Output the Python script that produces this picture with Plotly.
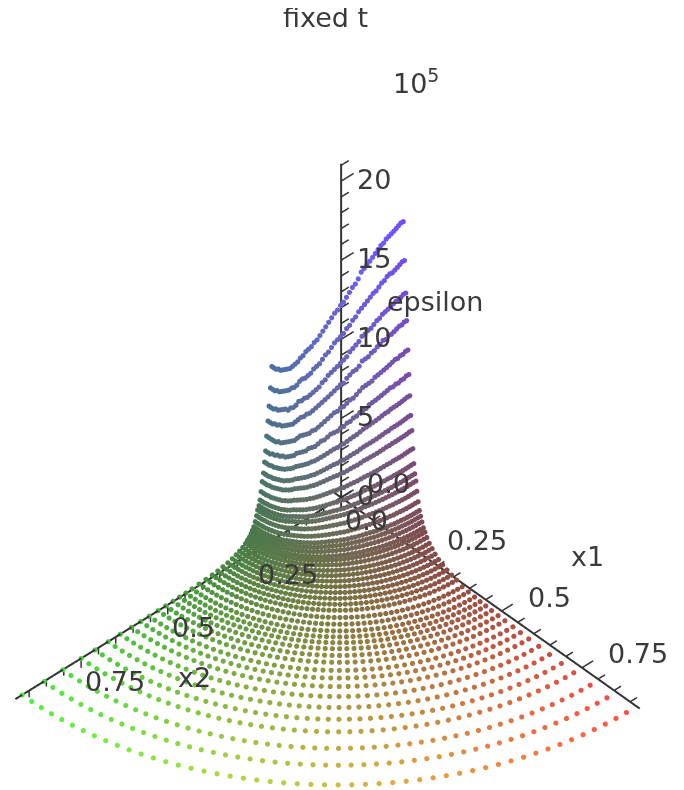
import plotly.graph_objects as go
import numpy as np

radii = [.200,.204,.208,.211,.215,.218,.221,.224,.228,.231,.234,.237,.241,.244,.248,
 .252,.256,.260,.265,.270,.276,.284,.293,.303,.314,.327,.341,.356,.372,
 .39,.41,.43,.448,.466,.485,.506,.528,.554,.578,.605,.637,.672,.71,.75,.803,.857,.92]
theta_deg = [1.8*(j+1) for j in range(50)]

# epsilon / 1e5 on the inner rings, one value per angle
eps_inner = [
[20.4,20.4,20.3,20.2,20.1,20.0,19.9,19.8,19.6,19.5,19.3,19.1,18.9,18.7,18.5,18.3,18.1,17.7,17.4,17.2,16.9,16.6,16.3,16.1,15.8,15.6,15.3,15.0,14.7,14.4,14.1,13.8,13.6,13.3,13.1,12.9,12.6,12.4,12.1,11.9,11.7,11.5,11.4,11.3,11.2,11.1,11.1,11.0,11.0,11.0],
[18.0,18.0,17.9,17.8,17.7,17.6,17.6,17.5,17.3,17.2,17.0,16.8,16.7,16.5,16.3,16.1,15.9,15.7,15.4,15.2,14.9,14.7,14.4,14.2,14.0,13.8,13.5,13.2,13.0,12.7,12.4,12.2,12.0,11.7,11.5,11.3,11.2,11.0,10.7,10.5,10.4,10.2,10.1,10.0,9.9,9.8,9.8,9.7,9.7,9.7],
[16.0,16.0,15.9,15.8,15.8,15.7,15.6,15.5,15.4,15.3,15.1,15.0,14.8,14.6,14.5,14.3,14.2,13.9,13.7,13.5,13.3,13.0,12.8,12.6,12.4,12.2,12.0,11.8,11.5,11.3,11.0,10.8,10.6,10.4,10.2,10.1,9.9,9.8,9.5,9.3,9.2,9.0,9.0,8.9,8.8,8.7,8.7,8.6,8.6,8.6],
[14.3,14.3,14.2,14.2,14.1,14.0,13.9,13.9,13.7,13.7,13.5,13.4,13.2,13.1,12.9,12.8,12.7,12.4,12.2,12.1,11.9,11.7,11.4,11.3,11.1,10.9,10.7,10.5,10.3,10.1,9.9,9.7,9.5,9.3,9.2,9.0,8.9,8.7,8.5,8.3,8.2,8.1,8.0,7.9,7.9,7.8,7.8,7.7,7.7,7.7],
[12.5,12.5,12.4,12.4,12.3,12.3,12.2,12.1,12.0,11.9,11.8,11.7,11.6,11.4,11.3,11.2,11.1,10.9,10.7,10.5,10.4,10.2,10.0,9.9,9.7,9.6,9.4,9.2,9.0,8.8,8.6,8.4,8.3,8.1,8.0,7.9,7.8,7.6,7.4,7.3,7.2,7.1,7.0,6.9,6.9,6.8,6.8,6.8,6.8,6.8],
[11.0,11.0,10.9,10.9,10.8,10.8,10.7,10.7,10.6,10.5,10.4,10.3,10.2,10.1,10.0,9.8,9.7,9.6,9.4,9.3,9.1,9.0,8.8,8.7,8.5,8.4,8.3,8.1,7.9,7.8,7.6,7.4,7.3,7.2,7.0,6.9,6.8,6.7,6.5,6.4,6.3,6.2,6.2,6.1,6.1,6.0,6.0,5.9,5.9,5.9],
[9.7,9.7,9.65,9.6,9.55,9.5,9.46,9.41,9.31,9.26,9.17,9.07,8.97,8.88,8.78,8.68,8.58,8.44,8.29,8.18,8.05,7.91,7.76,7.66,7.52,7.42,7.28,7.13,6.98,6.84,6.69,6.55,6.45,6.31,6.21,6.11,6.01,5.92,5.77,5.66,5.58,5.48,5.43,5.38,5.34,5.29,5.29,5.24,5.24,5.24],
[8.5,8.5,8.46,8.42,8.37,8.33,8.29,8.25,8.16,8.12,8.03,7.95,7.86,7.78,7.69,7.61,7.52,7.4,7.27,7.17,7.06,6.93,6.8,6.72,6.59,6.5,6.38,6.25,6.12,5.99,5.87,5.74,5.65,5.53,5.44,5.36,5.27,5.19,5.06,4.96,4.89,4.8,4.76,4.72,4.68,4.63,4.63,4.59,4.59,4.59],
[7.6,7.6,7.56,7.52,7.49,7.45,7.41,7.37,7.3,7.26,7.18,7.11,7.03,6.95,6.88,6.8,6.73,6.61,6.5,6.41,6.31,6.19,6.08,6.0,5.89,5.81,5.7,5.59,5.47,5.36,5.24,5.13,5.05,4.94,4.86,4.79,4.71,4.64,4.52,4.43,4.37,4.29,4.26,4.22,4.18,4.14,4.14,4.1,4.1,4.1],
[6.5,6.5,6.47,6.44,6.4,6.37,6.34,6.31,6.24,6.21,6.14,6.08,6.01,5.95,5.88,5.82,5.75,5.66,5.56,5.48,5.4,5.3,5.2,5.14,5.04,4.97,4.88,4.78,4.68,4.58,4.49,4.39,4.32,4.23,4.16,4.1,4.03,3.97,3.87,3.79,3.74,3.67,3.64,3.61,3.58,3.54,3.54,3.51,3.51,3.51],
[5.6,5.6,5.57,5.54,5.52,5.49,5.46,5.43,5.38,5.35,5.29,5.24,5.18,5.12,5.07,5.01,4.96,4.87,4.79,4.72,4.65,4.56,4.48,4.42,4.34,4.28,4.2,4.12,4.03,3.95,3.86,3.78,3.72,3.64,3.58,3.53,3.47,3.42,3.33,3.26,3.22,3.16,3.14,3.11,3.08,3.05,3.05,3.02,3.02,3.02],
[5,5,4.98,4.95,4.93,4.9,4.88,4.85,4.8,4.78,4.73,4.68,4.63,4.58,4.53,4.48,4.43,4.35,4.28,4.22,4.15,4.08,4.0,3.95,3.88,3.83,3.75,3.68,3.6,3.53,3.45,3.38,3.33,3.25,3.2,3.15,3.1,3.05,2.98,2.92,2.88,2.83,2.8,2.78,2.75,2.73,2.73,2.7,2.7,2.7],
[4.6,4.6,4.58,4.55,4.53,4.51,4.49,4.46,4.42,4.39,4.35,4.3,4.26,4.21,4.16,4.12,4.07,4.0,3.93,3.88,3.82,3.75,3.68,3.63,3.57,3.52,3.45,3.38,3.31,3.24,3.17,3.11,3.06,2.99,2.94,2.9,2.85,2.81,2.74,2.68,2.65,2.6,2.58,2.55,2.53,2.51,2.51,2.48,2.48,2.48],
[4,4,3.98,3.96,3.94,3.92,3.9,3.88,3.84,3.82,3.78,3.74,3.7,3.66,3.62,3.58,3.54,3.48,3.42,3.37,3.32,3.26,3.2,3.16,3.1,3.06,3.0,2.94,2.88,2.82,2.76,2.7,2.66,2.6,2.56,2.52,2.48,2.44,2.38,2.33,2.3,2.26,2.24,2.22,2.2,2.18,2.18,2.16,2.16,2.16],
[3.4,3.4,3.38,3.37,3.35,3.33,3.32,3.3,3.26,3.25,3.21,3.18,3.15,3.11,3.08,3.04,3.01,2.96,2.91,2.87,2.82,2.77,2.72,2.69,2.64,2.6,2.55,2.5,2.45,2.4,2.35,2.3,2.26,2.21,2.18,2.14,2.11,2.07,2.02,1.98,1.96,1.92,1.9,1.89,1.87,1.85,1.85,1.84,1.84,1.84],
[2.9,2.9,2.89,2.87,2.86,2.84,2.83,2.81,2.78,2.77,2.74,2.71,2.68,2.65,2.62,2.6,2.57,2.52,2.48,2.44,2.41,2.36,2.32,2.29,2.25,2.22,2.18,2.13,2.09,2.04,2.0,1.96,1.93,1.89,1.86,1.83,1.8,1.77,1.73,1.69,1.67,1.64,1.62,1.61,1.6,1.58,1.58,1.57,1.57,1.57],
[2.6,2.6,2.59,2.57,2.56,2.55,2.54,2.52,2.5,2.48,2.46,2.43,2.41,2.38,2.35,2.33,2.3,2.26,2.22,2.19,2.16,2.12,2.08,2.05,2.02,1.99,1.95,1.91,1.87,1.83,1.79,1.76,1.73,1.69,1.66,1.64,1.61,1.59,1.55,1.52,1.5,1.47,1.46,1.44,1.43,1.42,1.42,1.4,1.4,1.4],
[2.3,2.3,2.29,2.28,2.27,2.25,2.24,2.23,2.21,2.2,2.17,2.15,2.13,2.1,2.08,2.06,2.04,2.0,1.97,1.94,1.91,1.87,1.84,1.82,1.78,1.76,1.73,1.69,1.66,1.62,1.59,1.55,1.53,1.5,1.47,1.45,1.43,1.4,1.37,1.34,1.32,1.3,1.29,1.28,1.27,1.25,1.25,1.24,1.24,1.24],
[2,2,1.99,1.98,1.97,1.96,1.95,1.94,1.92,1.91,1.89,1.87,1.85,1.83,1.81,1.79,1.77,1.74,1.71,1.69,1.66,1.63,1.6,1.58,1.55,1.53,1.5,1.47,1.44,1.41,1.38,1.35,1.33,1.3,1.28,1.26,1.24,1.22,1.19,1.17,1.15,1.13,1.12,1.11,1.1,1.09,1.09,1.08,1.08,1.08],
[1.8,1.8,1.79,1.78,1.77,1.76,1.76,1.75,1.73,1.72,1.7,1.68,1.67,1.65,1.63,1.61,1.59,1.57,1.54,1.52,1.49,1.47,1.44,1.42,1.4,1.38,1.35,1.32,1.3,1.27,1.24,1.22,1.2,1.17,1.15,1.13,1.12,1.1,1.07,1.05,1.04,1.02,1.01,1.0,.99,.98,.98,.97,.97,.97],
[1.55,1.55,1.54,1.53,1.53,1.52,1.51,1.5,1.49,1.48,1.46,1.45,1.43,1.42,1.4,1.39,1.37,1.35,1.33,1.31,1.29,1.26,1.24,1.22,1.2,1.19,1.16,1.14,1.12,1.09,1.07,1.05,1.03,1.01,.99,.98,.96,.95,.92,.9,.89,.88,.87,.86,.85,.84,.84,.84,.84,.84],
[1.3,1.3,1.29,1.29,1.28,1.27,1.27,1.26,1.25,1.24,1.23,1.22,1.2,1.19,1.18,1.16,1.15,1.13,1.11,1.1,1.08,1.06,1.04,1.03,1.01,.99,.98,.96,.94,.92,.9,.88,.86,.85,.83,.82,.81,.79,.77,.76,.75,.73,.73,.72,.72,.71,.71,.7,.7,.7],
[1.1,1.1,1.09,1.09,1.08,1.08,1.07,1.07,1.06,1.05,1.04,1.03,1.02,1.01,1.0,.98,.97,.96,.94,.93,.91,.9,.88,.87,.85,.84,.83,.81,.79,.78,.76,.74,.73,.72,.7,.69,.68,.67,.65,.64,.63,.62,.62,.61,.61,.6,.6,.59,.59,.59],
[.9,.9,.9,.89,.89,.88,.88,.87,.86,.86,.85,.84,.83,.82,.81,.81,.8,.78,.77,.76,.75,.73,.72,.71,.7,.69,.68,.66,.65,.63,.62,.61,.6,.59,.58,.57,.56,.55,.54,.52,.52,.51,.5,.5,.5,.49,.49,.49,.49,.49],
[.72,.72,.72,.71,.71,.71,.7,.7,.69,.69,.68,.67,.67,.66,.65,.64,.64,.63,.62,.61,.6,.59,.58,.57,.56,.55,.54,.53,.52,.51,.5,.49,.48,.47,.46,.45,.45,.44,.43,.42,.41,.41,.4,.4,.4,.39,.39,.39,.39,.39],
[.58,.58,.58,.57,.57,.57,.57,.56,.56,.55,.55,.54,.54,.53,.52,.52,.51,.5,.5,.49,.48,.47,.46,.46,.45,.44,.44,.43,.42,.41,.4,.39,.39,.38,.37,.37,.36,.35,.35,.34,.33,.33,.32,.32,.32,.32,.32,.31,.31,.31],
[.46,.46,.46,.46,.45,.45,.45,.45,.44,.44,.43,.43,.43,.42,.42,.41,.41,.4,.39,.39,.38,.37,.37,.36,.36,.35,.35,.34,.33,.32,.32,.31,.31,.3,.29,.29,.29,.28,.27,.27,.26,.26,.26,.26,.25,.25,.25,.25,.25,.25],
[.36,.36,.36,.36,.35,.35,.35,.35,.35,.34,.34,.34,.33,.33,.33,.32,.32,.31,.31,.3,.3,.29,.29,.28,.28,.28,.27,.26,.26,.25,.25,.24,.24,.23,.23,.23,.22,.22,.21,.21,.21,.2,.2,.2,.2,.2,.2,.19,.19,.19],
[.28,.28,.28,.28,.28,.27,.27,.27,.27,.27,.26,.26,.26,.26,.25,.25,.25,.24,.24,.24,.23,.23,.22,.22,.22,.21,.21,.21,.2,.2,.19,.19,.19,.18,.18,.18,.17,.17,.17,.16,.16,.16,.16,.16,.15,.15,.15,.15,.15,.15],
]
# outer rings lie flat: one height per ring
eps_outer = [.12,.09,.06,.04,.03,.02,.01,.01,.01,0,0,0,0,0,0,0,0,0]

x1_tick_values = [i*.05 for i in range(19)]
x2_tick_values = [i*.05 for i in range(19)]
eps_tick_values = list(range(22))
x_label_values = [0,.25,.5,.75]
x_label_text = ["0.0","0.25","0.5","0.75"]
eps_label_values = [0,5,10,15,20]
eps_label_text = ["0","5","10","15","20"]

x1, x2, eps = [], [], []
for k, r in enumerate(radii):
    row = eps_inner[k] if k < len(eps_inner) else [eps_outer[k-len(eps_inner)]]*len(theta_deg)
    for t, e in zip(theta_deg, row):
        x1.append(r*np.cos(np.radians(t))); x2.append(r*np.sin(np.radians(t))); eps.append(e)
x1, x2, eps = np.array(x1), np.array(x2), np.array(eps)
cols = [f"rgb({min(255,int(75+195*a))},{min(255,int(75+180*b))},{min(255,int(65+9.5*c))})" for a,b,c in zip(x1,x2,eps)]

fig = go.Figure()
fig.add_trace(go.Scatter3d(x=x2,y=x1,z=eps,mode="markers",marker=dict(size=3,color=cols,line=dict(width=0)),hoverinfo="skip"))
line = dict(color="#333333",width=4)
fig.add_trace(go.Scatter3d(x=[0,0],y=[-.03,.93],z=[0,0],mode="lines",line=line,hoverinfo="skip"))
fig.add_trace(go.Scatter3d(x=[-.03,.94],y=[0,0],z=[0,0],mode="lines",line=line,hoverinfo="skip"))
fig.add_trace(go.Scatter3d(x=[0,0],y=[0,0],z=[-.8,21.1],mode="lines",line=line,hoverinfo="skip"))
tk=[]
for i,v in enumerate(x1_tick_values):
    L=.032 if i%5==0 else .02
    tk.append(((0,v,0),(-L,v,0)))
for i,v in enumerate(x2_tick_values):
    L=.6 if i%5==0 else .42
    tk.append(((v,0,0),(v,0,-L)))
for v in eps_tick_values:
    L=.036 if v%5==0 else .022
    tk.append(((0,0,v),(-L,0,v)))
xs,ys,zs=[],[],[]
for a_,b_ in tk:
    xs+=[a_[0],b_[0],None]; ys+=[a_[1],b_[1],None]; zs+=[a_[2],b_[2],None]
fig.add_trace(go.Scatter3d(x=xs,y=ys,z=zs,mode="lines",line=dict(color="#333333",width=3),hoverinfo="skip"))
font=dict(family="DejaVu Sans",size=27,color="#3a3a3a")
ann=[]
def a(x,y,z,t,dx,dy):
    ann.append(dict(x=x,y=y,z=z,text=t,showarrow=False,xanchor="left",yanchor="middle",xshift=dx,yshift=dy,font=font))
for v,t in zip(x_label_values,x_label_text):
    a(0,v,0,t,24,14)
    a(v,0,0,t,2,-23)
for v,t in zip(eps_label_values,eps_label_text):
    a(0,0,v,t,14,2)
layout_ann=[
 dict(x=579,y=548,text="x1"),dict(x=186,y=669,text="x2"),dict(x=427,y=293,text="epsilon"),dict(x=317,y=10,text="fixed t"),
 dict(x=408,y=73,text="10<sup>5</sup>")]
for d in layout_ann:
    d.update(xref="paper",yref="paper",showarrow=False,font=font,xanchor="center",yanchor="middle")
    d["x"]=d["x"]/684; d["y"]=1-d["y"]/790
fig.update_layout(width=684,height=790,margin=dict(l=0,r=0,t=0,b=0),showlegend=False,annotations=layout_ann,
  scene=dict(annotations=ann,xaxis=dict(visible=False,range=[-.05,.94]),yaxis=dict(visible=False,range=[-.05,.93]),zaxis=dict(visible=False,range=[-1,21.1]),
   aspectmode="manual",aspectratio=dict(x=1.19,y=1.166,z=1.18),
   camera=dict(projection=dict(type="orthographic"),up=dict(x=0,y=0,z=1),center=dict(x=-.1901,y=-.1222,z=.2485),
     eye=dict(x=.9419,y=1.0878,z=1.7095))))
fig.write_html("out.html")
